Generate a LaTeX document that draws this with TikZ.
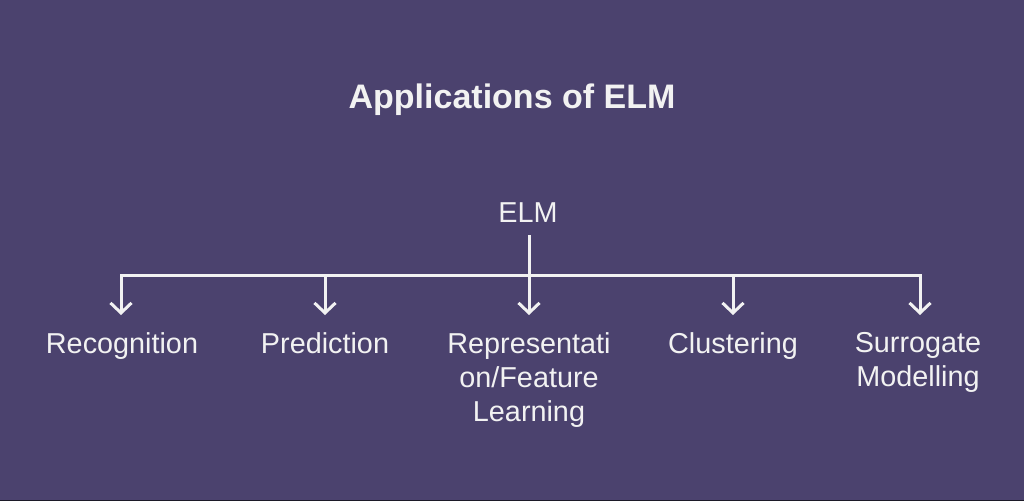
\documentclass[tikz,border=0pt]{standalone}
\usepackage{fontspec}
\setmainfont{Liberation Sans}
\usetikzlibrary{arrows.meta}
\definecolor{bg}{HTML}{4B426E}
\definecolor{fg}{HTML}{F2F2F2}
\definecolor{edge}{HTML}{1C1A28}
\tikzset{
  lbl/.style={text=fg, font=\fontsize{28.8}{34}\selectfont, align=center, inner sep=0pt},
  conn/.style={draw=fg, line width=3pt},
  arr/.style={conn, -{Straight Barb[length=10pt,width=21pt,line width=3pt]}}
}
\begin{document}
\begin{tikzpicture}[x=1pt,y=-1pt]
\fill[bg] (0,0) rectangle (1024,501);
\fill[edge] (0,499.5) rectangle (1024,501);
\useasboundingbox (0,0) rectangle (1024,501);
\node[text=fg, font=\bfseries\fontsize{34}{40}\selectfont, inner sep=0pt] (title) at (512,99.5) {Applications of ELM};
\node[lbl] (elm) at (528,213) {ELM};
\coordinate (trunk) at (529,235);
\coordinate (hub) at (529,275);
\coordinate (hl) at (121,275);
\coordinate (hr) at (920,275);
\coordinate (b1) at (121,275);
\coordinate (b2) at (325,275);
\coordinate (b3) at (529,275);
\coordinate (b4) at (733,275);
\coordinate (b5) at (920,275);
\coordinate (t1) at (121,315);
\coordinate (t2) at (325,315);
\coordinate (t3) at (529,315);
\coordinate (t4) at (733,315);
\coordinate (t5) at (920,315);
\draw[conn] (trunk) -- (hub);
\draw[conn, line cap=rect] (hl) -- (hr);
\draw[arr] (b1) -- (t1);
\draw[arr] (b2) -- (t2);
\draw[arr] (b3) -- (t3);
\draw[arr] (b4) -- (t4);
\draw[arr] (b5) -- (t5);
\node[lbl, anchor=north] (n1) at (122,332.5) {Recognition};
\node[lbl, anchor=north] (n2) at (325,332.5) {Prediction};
\node[lbl, anchor=north] (n3) at (529,332.5) {Representati\\on/Feature\\Learning};
\node[lbl, anchor=north] (n4) at (733,332.5) {Clustering};
\node[lbl, anchor=north] (n5) at (918,332.5) {Surrogate\\Modelling};
\end{tikzpicture}
\end{document}
